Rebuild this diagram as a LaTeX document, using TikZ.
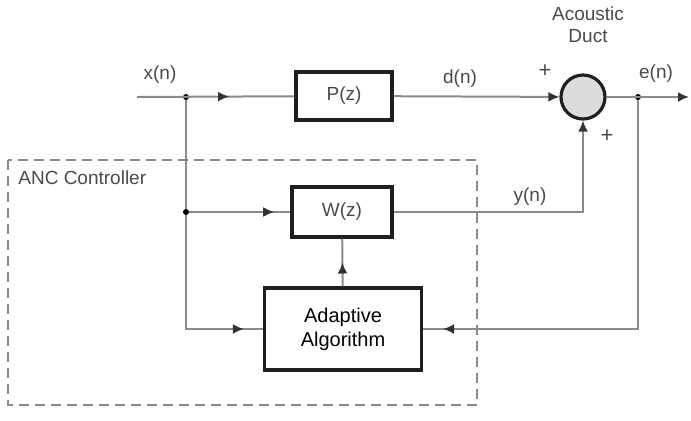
\documentclass[tikz,border=0pt]{standalone}
\usepackage{fontspec}
\setmainfont{Liberation Sans}
\usepackage{xcolor}
\usetikzlibrary{arrows.meta,decorations.markings,positioning}

\definecolor{wire}{HTML}{8A8A8A}
\definecolor{headgray}{HTML}{333333}
\definecolor{labelgray}{HTML}{4A4A4A}
\definecolor{sumfill}{HTML}{DCDCDC}

\begin{document}
\begin{tikzpicture}[
    x=0.5pt, y=-0.5pt,
    block/.style={rectangle, draw=black!88, line width=1.6pt, align=center, text=labelgray, font=\fontsize{9.5}{11}\selectfont},
    algo/.style={block, text=black, font=\fontsize{10}{12}\selectfont},
    sum/.style={circle, draw=black!88, line width=1.6pt, fill=sumfill, minimum size=22pt, inner sep=0pt},
    lbl/.style={text=labelgray, font=\fontsize{9.5}{11}\selectfont, inner sep=0pt, align=center},
    sig/.style={draw=wire, line width=1pt},
    tip/.style={-{Latex[length=5.5pt,width=5pt,color=headgray]}},
    midarrow/.style={postaction={decorate}, decoration={markings, mark=at position #1 with {\arrow[headgray]{Latex[length=5.5pt,width=5pt]}}}},
    junction/.style={circle, fill=black, inner sep=0pt, minimum size=3pt}
]
\useasboundingbox (0,0) rectangle (691,420);

% ANC controller frame
\draw[wire, line width=1pt, dash pattern=on 5pt off 3pt] (8,160) rectangle (477,405);
\node[lbl, anchor=west] (ctrl) at (18,178) {ANC Controller};

% Blocks
\node[block, minimum width=48pt, minimum height=24pt] (P) at (344,96) {P(z)};
\node[block, minimum width=50pt, minimum height=25pt] (W) at (342,212) {W(z)};
\node[algo, minimum width=78.5pt, minimum height=41pt] (A) at (343,329) {Adaptive\\Algorithm};
\node[sum] (S) at (583,97) {};

% Points on the wires
\coordinate (in) at (137,97);
\coordinate (out) at (689,97);
\node[junction] (xs) at (186,97) {};
\node[junction] (xw) at (186,212) {};
\node[junction] (es) at (638,97) {};

% Labels
\node[lbl] (xlab) at (160,75) {x(n)};
\node[lbl] (dlab) at (460,79) {d(n)};
\node[lbl] (elab) at (656,74) {e(n)};
\node[lbl] (ylab) at (530,197) {y(n)};
\node[lbl, font=\fontsize{11}{12}\selectfont] (plus1) at (545,71) {+};
\node[lbl, font=\fontsize{11}{12}\selectfont] (plus2) at (607,136) {+};
\node[lbl] (duct) at (588,25) {Acoustic\\Duct};

% Wires
\draw[sig, midarrow=0.585] (in) -- (P);
\draw[sig, tip] (P) -- (S);
\draw[sig, tip] (S) -- (out);
\draw[sig] (xs) -- (xw);
\draw[sig, midarrow=0.84] (xw) -- (W);
\draw[sig, midarrow=0.9] (xw) |- (A);
\draw[sig, tip] (W) -| (S);
\draw[sig, midarrow=0.5] (A) -- (W);
\draw[sig, midarrow=0.955] (es) |- (A);

\end{tikzpicture}
\end{document}
